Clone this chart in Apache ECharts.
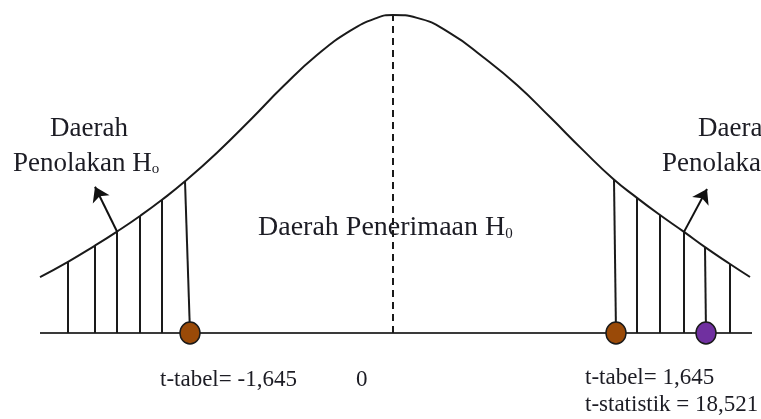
<!DOCTYPE html>
<html>
<head>
<meta charset="utf-8">
<script src="https://cdn.jsdelivr.net/npm/echarts@6/dist/echarts.min.js"></script>
<style>
  html, body { margin: 0; padding: 0; background: #fff; }
  #chart { width: 761px; height: 419px; }
</style>
</head>
<body>
<div id="chart"></div>
<script>
// kurva normal (x dalam satuan simpangan, y dalam % puncak)
const curveX = [-3.53, -3.25, -2.98, -2.76, -2.53, -2.31, -2.08, -1.76, -1.43, -1.10, -0.76, -0.43, -0.16, 0,
  0.24, 0.57, 0.90, 1.24, 1.57, 1.90, 2.20, 2.44, 2.67, 2.91, 3.12, 3.37, 3.57]
const curveY = [17.6, 22.4, 27.5, 31.9, 36.8, 41.9, 47.7, 56.7, 66.9, 77.5, 87.4, 95.0, 99.1, 100,
  99.1, 94.3, 86.8, 78.0, 67.9, 57.5, 48.5, 42.5, 37.1, 31.8, 27.0, 21.7, 17.6]

// garis arsiran daerah penolakan: x atas, y atas, x bawah
const hatchTopX = [-3.25, -2.98, -2.76, -2.53, -2.31, -2.08, 2.21, 2.44, 2.67, 2.91, 3.12, 3.37]
const hatchTopY = [22.4, 27.5, 31.9, 36.8, 41.9, 47.7, 48.2, 42.5, 37.1, 31.8, 27.0, 21.7]
const hatchBottomX = [-3.25, -2.98, -2.76, -2.53, -2.31, -2.03, 2.23, 2.44, 2.67, 2.91, 3.13, 3.37]

// titik t-tabel dan t-statistik
const pointNames = ['t-tabel kiri', 't-tabel kanan', 't-statistik']
const pointX = [-2.03, 2.23, 3.13]
const pointColors = ['#9a4a08', '#9a4a08', '#7030a0']

// panah: dari kurva ke label
const arrowFrom = [[-2.76, 31.9], [2.91, 31.8]]
const arrowTo = [[-2.98, 46.0], [3.14, 45.3]]

const axisMin = -3.53
const axisMax = 3.59

const chart = echarts.init(document.getElementById('chart'))

let hatchData = []
for (let i = 0; i < hatchTopX.length; i++) {
  hatchData.push({ coords: [[hatchBottomX[i], 0], [hatchTopX[i], hatchTopY[i]]] })
}

let arrowData = arrowFrom.map((p, i) => ({ coords: [p, arrowTo[i]] }))

const serif = 'Liberation Serif'
const textColor = '#1c1c24'
const subStyle = { fontSize: 15, fontFamily: serif, fill: textColor, padding: [12, 0, 0, 0] }

const option = {
  animation: false,
  grid: { left: 40, top: 15, width: 712, height: 318 },
  xAxis: { type: 'value', min: axisMin, max: axisMax, show: false },
  yAxis: { type: 'value', min: 0, max: 100, show: false },
  series: [
    {
      // garis dasar
      type: 'line',
      data: [[axisMin, 0], [axisMax, 0]],
      symbol: 'none',
      lineStyle: { color: '#3a3a3a', width: 2 },
      z: 1
    },
    {
      type: 'line',
      data: curveX.map((x, i) => [x, curveY[i]]),
      smooth: 0.5,
      symbol: 'none',
      lineStyle: { color: '#1a1a1a', width: 2 },
      z: 2
    },
    {
      // garis putus-putus di tengah
      type: 'line',
      data: [[0, 0], [0, 100]],
      symbol: 'none',
      lineStyle: { color: '#1a1a1a', width: 2, type: [7, 5] },
      z: 2
    },
    {
      type: 'lines',
      coordinateSystem: 'cartesian2d',
      data: hatchData,
      lineStyle: { color: '#1a1a1a', width: 2, opacity: 1 },
      z: 2
    },
    {
      type: 'lines',
      coordinateSystem: 'cartesian2d',
      data: arrowData,
      symbol: ['none', 'arrow'],
      symbolSize: 14,
      lineStyle: { color: '#111', width: 2, opacity: 1 },
      z: 3
    },
    {
      type: 'scatter',
      data: pointX.map((x, i) => ({
        name: pointNames[i],
        value: [x, 0],
        itemStyle: { color: pointColors[i] }
      })),
      symbol: 'circle',
      symbolSize: [20, 22],
      itemStyle: { borderColor: '#1a1a1a', borderWidth: 1.5, opacity: 1 },
      z: 4
    }
  ],
  graphic: [
    {
      type: 'text', left: 50, top: 115,
      style: { text: 'Daerah', font: '27px "' + serif + '"', fill: textColor }
    },
    {
      type: 'text', left: 13, top: 150,
      style: {
        text: 'Penolakan H{s|o}', font: '27px "' + serif + '"', fill: textColor,
        rich: { s: subStyle }
      }
    },
    {
      type: 'text', left: 698, top: 115,
      style: { text: 'Daerah', font: '27px "' + serif + '"', fill: textColor }
    },
    {
      type: 'text', left: 662, top: 150,
      style: { text: 'Penolakan', font: '27px "' + serif + '"', fill: textColor }
    },
    {
      type: 'text', left: 258, top: 214,
      style: {
        text: 'Daerah Penerimaan H{s|0}', font: '28px "' + serif + '"', fill: textColor,
        rich: { s: subStyle }
      }
    },
    {
      type: 'text', left: 160, top: 368,
      style: { text: 't-tabel= -1,645', font: '23px "' + serif + '"', fill: textColor }
    },
    {
      type: 'text', left: 356, top: 368,
      style: { text: '0', font: '23px "' + serif + '"', fill: textColor }
    },
    {
      type: 'text', left: 585, top: 366,
      style: { text: 't-tabel= 1,645', font: '23px "' + serif + '"', fill: textColor }
    },
    {
      type: 'text', left: 585, top: 393,
      style: { text: 't-statistik = 18,521', font: '23px "' + serif + '"', fill: textColor }
    }
  ]
}

chart.setOption(option)
</script>
</body>
</html>
